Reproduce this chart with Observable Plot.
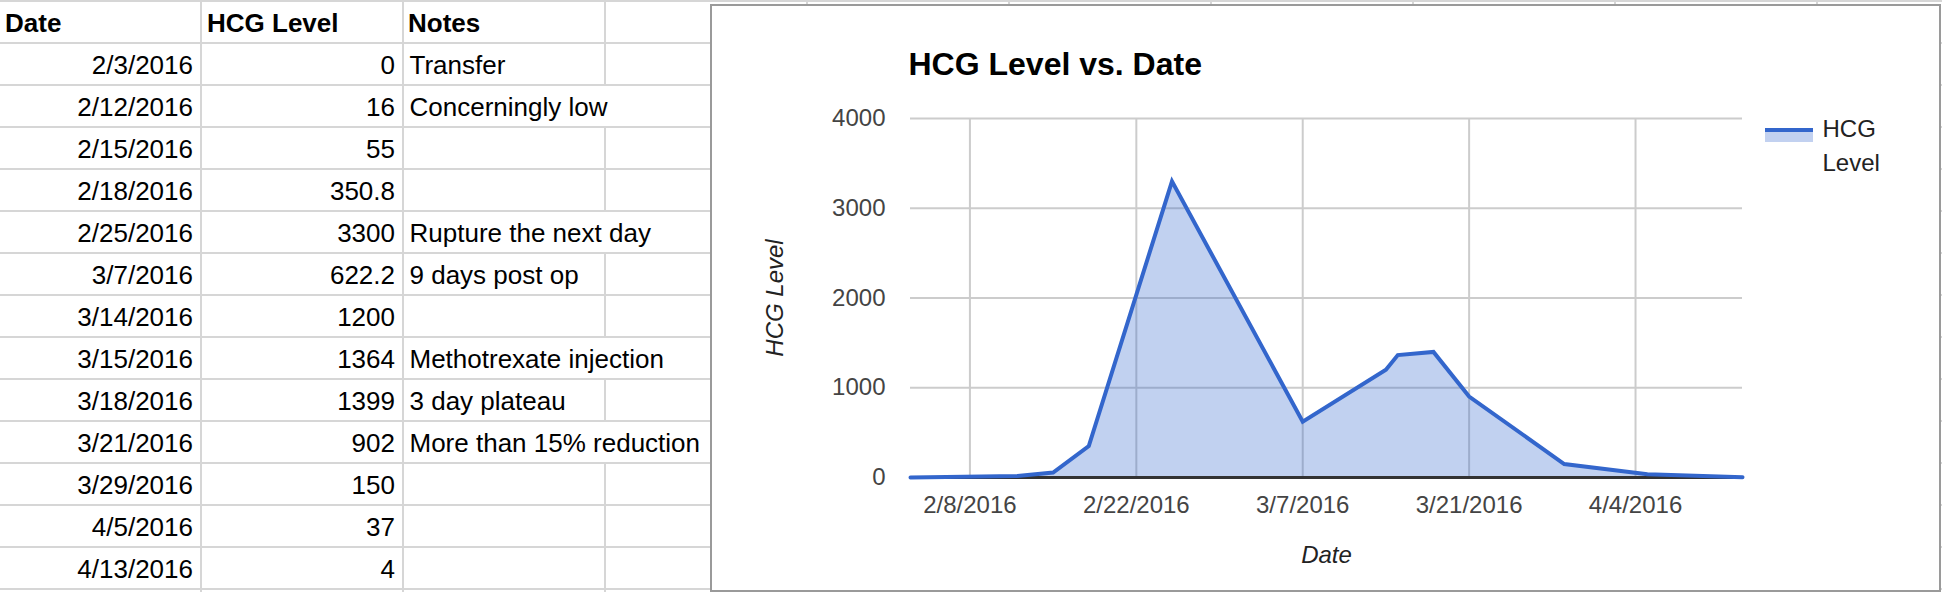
<!DOCTYPE html>
<html>
<head>
<meta charset="utf-8">
<script src="https://cdn.jsdelivr.net/npm/d3@7"></script>
<script src="https://cdn.jsdelivr.net/npm/@observablehq/plot@0.6"></script>
<style>
  html, body { margin: 0; padding: 0; background: #fff; width: 1942px; height: 592px; overflow: hidden;
    font-family: 'Liberation Sans', Arial, Helvetica, sans-serif; }
  #sheet { position: absolute; left: 0; top: 0; width: 1942px; height: 592px; overflow: hidden; }
  .hline { position: absolute; left: 0; width: 1942px; height: 2px; background: #d6d6d6; }
  .vline { position: absolute; width: 2px; background: #d6d6d6; }
  .cell { position: absolute; height: 42px; line-height: 42px; font-size: 26px; color: #000; white-space: nowrap; }
  .cell.head { font-weight: bold; }
  #chart { position: absolute; left: 710px; top: 4px; width: 1231px; height: 588px; box-sizing: border-box;
    border: 2px solid #9a9a9a; background: #fff; overflow: hidden; }
  #plot { position: absolute; left: 0; top: 0; }
  #title { position: absolute; left: 196.5px; top: 42px; font-size: 32px; line-height: 32px; font-weight: bold; color: #000; white-space: nowrap; }
  #legend-swatch { position: absolute; left: 1053px; top: 121.7px; width: 48px; height: 10px; border-top: 4px solid #3366cc; background: #c2d1f0; }
  #legend-text { position: absolute; left: 1110.5px; top: 106px; font-size: 24px; line-height: 34px; color: #222; }
  g[aria-label="y-axis label"], g[aria-label="x-axis label"],
  g[aria-label="y-axis label"] text, g[aria-label="x-axis label"] text { font-style: italic; fill: #222; }
</style>
</head>
<body>
<div id="sheet"></div>
<div id="chart">
  <div id="plot"></div>
  <div id="title"></div>
  <div id="legend-swatch"></div>
  <div id="legend-text"></div>
</div>
<script>
// ---- Data ----
const headers = ["Date", "HCG Level", "Notes"];
const dates = ["2/3/2016", "2/12/2016", "2/15/2016", "2/18/2016", "2/25/2016", "3/7/2016", "3/14/2016",
               "3/15/2016", "3/18/2016", "3/21/2016", "3/29/2016", "4/5/2016", "4/13/2016"];
const hcgLevels = [0, 16, 55, 350.8, 3300, 622.2, 1200, 1364, 1399, 902, 150, 37, 4];
const notes = ["Transfer", "Concerningly low", "", "", "Rupture the next day", "9 days post op", "",
               "Methotrexate injection", "3 day plateau", "More than 15% reduction", "", "", ""];
const chartTitle = "HCG Level vs. Date";
const seriesName = "HCG Level";
const xTickLabels = ["2/8/2016", "2/22/2016", "3/7/2016", "3/21/2016", "4/4/2016"];
const yTicks = [0, 1000, 2000, 3000, 4000];

const FONT = "'Liberation Sans', Arial, Helvetica, sans-serif";

// ---- Spreadsheet ----
const sheet = document.getElementById("sheet");
function add(cls, css, text) {
  const d = document.createElement("div");
  d.className = cls;
  Object.assign(d.style, css);
  if (text != null) d.textContent = text;
  sheet.appendChild(d);
  return d;
}
const ROW = 42;
const colLines = [200, 402, 604, 806, 1008, 1210, 1412, 1614, 1816];
const canvas = document.createElement("canvas");
const ctx = canvas.getContext("2d");
ctx.font = "26px " + FONT;
const notesLeft = 409.5;

const nRows = 15;
for (let k = 0; k < nRows; k++) {
  const top = k * ROW;
  // which column lines are hidden by overflowing text in this row
  let hidden = new Set();
  if (k >= 1 && k <= notes.length) {
    const t = notes[k - 1];
    if (t) {
      const w = ctx.measureText(t).width;
      const end = notesLeft + w;
      colLines.forEach((x, j) => { if (j >= 2 && x < end) hidden.add(j); });
    }
  }
  colLines.forEach((x, j) => {
    if (!hidden.has(j)) add("vline", {left: x + "px", top: top + "px", height: (ROW + 2) + "px"});
  });
}
for (let k = 0; k <= nRows; k++) add("hline", {top: (k * ROW) + "px"});

// header
add("cell head", {left: "5px", top: "2px"}, headers[0]);
add("cell head", {left: "207px", top: "2px"}, headers[1]);
add("cell head", {left: "408px", top: "2px"}, headers[2]);
// rows
dates.forEach((d, i) => {
  const top = (i + 1) * ROW + 2;
  add("cell", {left: "0px", width: "193px", textAlign: "right", top: top + "px"}, d);
  add("cell", {left: "203px", width: "192px", textAlign: "right", top: top + "px"}, String(hcgLevels[i]));
  if (notes[i]) add("cell", {left: notesLeft + "px", top: top + "px"}, notes[i]);
});

// ---- Chart ----
const parse = d3.utcParse("%m/%d/%Y");
const data = dates.map((d, i) => ({date: parse(d), hcg: hcgLevels[i]}));
const xTicks = xTickLabels.map(parse);

const W = 1227, H = 584;
const plot = Plot.plot({
  width: W,
  height: H,
  marginLeft: 198,
  marginRight: 197,
  marginTop: 112,
  marginBottom: 113,
  style: {fontFamily: FONT, fontSize: "24px", background: "transparent", overflow: "visible"},
  x: {type: "utc", domain: [data[0].date, data[data.length - 1].date]},
  y: {domain: [yTicks[0], yTicks[yTicks.length - 1]]},
  marks: [
    Plot.gridY(yTicks, {stroke: "#cccccc", strokeOpacity: 1, strokeWidth: 2}),
    Plot.gridX(xTicks, {stroke: "#cccccc", strokeOpacity: 1, strokeWidth: 2}),
    Plot.areaY(data, {x: "date", y: "hcg", fill: "#3366cc", fillOpacity: 0.3}),
    Plot.ruleY([0], {stroke: "#333333", strokeWidth: 3}),
    Plot.lineY(data, {x: "date", y: "hcg", stroke: "#3366cc", strokeWidth: 4, strokeLinejoin: "miter", strokeMiterlimit: 4}),
    Plot.axisY(yTicks, {tickSize: 0, tickPadding: 25, tickFormat: d3.format("d"), fill: "#444444",
      label: seriesName, labelAnchor: "center", labelOffset: 145, labelArrow: "none"}),
    Plot.axisX(xTicks, {tickSize: 0, tickPadding: 18, tickFormat: d3.utcFormat("%-m/%-d/%Y"), fill: "#444444",
      label: headers[0], labelAnchor: "center", labelOffset: 85, labelArrow: "none"})
  ]
});
document.getElementById("plot").appendChild(plot);
d3.select(plot).selectAll('g[aria-label$="axis label"] text').attr("font-style", "italic").attr("fill", "#222");

document.getElementById("title").textContent = chartTitle;
const words = seriesName.split(" ");
const lt = document.getElementById("legend-text");
lt.appendChild(document.createTextNode(words[0]));
lt.appendChild(document.createElement("br"));
lt.appendChild(document.createTextNode(words.slice(1).join(" ")));
</script>
</body>
</html>
